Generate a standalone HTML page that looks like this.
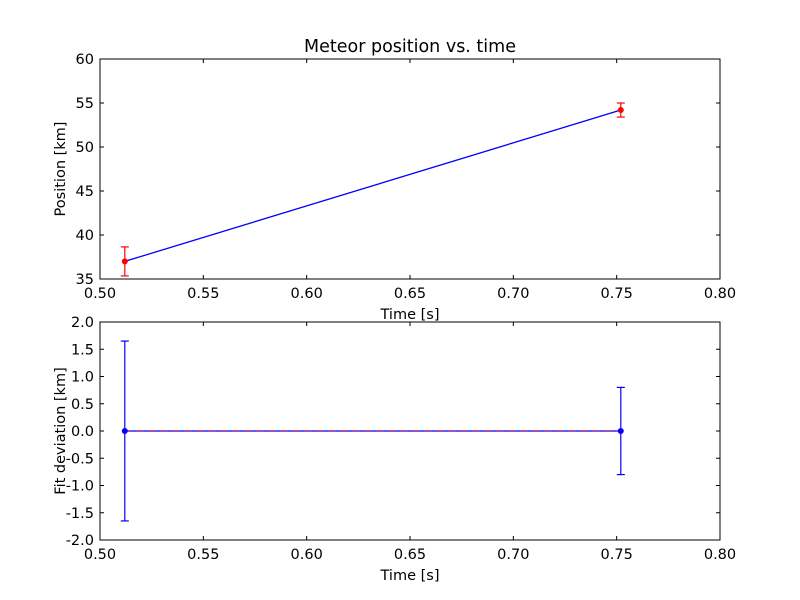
<!DOCTYPE html>
<html><head><meta charset="utf-8"><style>body{margin:0;background:#fff}svg{display:block;font-family:"DejaVu Sans","Liberation Sans",sans-serif}</style></head>
<body>
<svg id="c" width="800" height="600" viewBox="0 0 800 600">
<rect width="800" height="600" fill="#fff"/>
</svg>
<script>
const times = [0.512, 0.752];
const positions = [37.0, 54.2];
const posErrors = [1.65, 0.8];
const deviations = [0.0, 0.0];
const devErrors = [1.65, 0.8];
const xTicks = [0.50, 0.55, 0.60, 0.65, 0.70, 0.75, 0.80];
const yTicksTop = [35, 40, 45, 50, 55, 60];
const yTicksBot = [-2.0, -1.5, -1.0, -0.5, 0.0, 0.5, 1.0, 1.5, 2.0];

const svg = document.getElementById('c');
const NS = 'http://www.w3.org/2000/svg';
function mk(tag, attrs, parent) {
  const e = document.createElementNS(NS, tag);
  for (const k in attrs) e.setAttribute(k, attrs[k]);
  (parent || svg).appendChild(e);
  return e;
}
function panel(name, top, bottom, ymin, ymax, yTicks, yFmt, ys, errs, ylabel, title, lineCol, ptCol, errCol, zeroLine) {
  const L = 100, R = 720;
  const g = mk('g', {});
  
  
  const sx = v => L + (v - 0.5) / 0.3 * (R - L);
  const sy = v => bottom - (v - ymin) / (ymax - ymin) * (bottom - top);
  const clip = 'clip-' + name;
  const cp = mk('clipPath', {id: clip}, g);
  mk('rect', {x: L, y: top, width: R - L, height: bottom - top}, cp);
  const plot = mk('g', {'clip-path': 'url(#' + clip + ')'}, g);
  const pl = mk('polyline', {points: times.map((t, i) => sx(t) + ',' + sy(ys[i])).join(' '), fill: 'none', stroke: lineCol, 'stroke-width': 1.3}, plot);
  
  
  if (zeroLine) {
    const z = mk('line', {x1: sx(times[0]), x2: sx(times[times.length - 1]), y1: sy(0), y2: sy(0), stroke: '#ff0000', 'stroke-width': 1.2, 'stroke-dasharray': '6,6', opacity: 0.6}, plot);
    
    
  }
  times.forEach((t, i) => {
    const x = sx(t), y1 = sy(ys[i] - errs[i]), y2 = sy(ys[i] + errs[i]);
    const eb = mk('g', {stroke: errCol, 'stroke-width': 1.2}, plot);
    
    
    mk('line', {x1: x, x2: x, y1: y1, y2: y2}, eb);
    mk('line', {x1: x - 4, x2: x + 4, y1: y1, y2: y1}, eb);
    mk('line', {x1: x - 4, x2: x + 4, y1: y2, y2: y2}, eb);
    const p = mk('circle', {cx: x, cy: sy(ys[i]), r: 2.5, fill: ptCol, stroke: ptCol}, plot);
    
    
  });
  mk('rect', {x: L, y: top, width: R - L, height: bottom - top, fill: 'none', stroke: '#000', 'stroke-width': 1}, g);
  xTicks.forEach(v => {
    const x = sx(v);
    mk('line', {x1: x, x2: x, y1: bottom, y2: bottom - 4, stroke: '#000'}, g);
    mk('line', {x1: x, x2: x, y1: top, y2: top + 4, stroke: '#000'}, g);
    const t = mk('text', {x: x, y: bottom + 19, 'text-anchor': 'middle', 'font-size': 14.5}, g);
    t.textContent = v.toFixed(2);
    
    
  });
  yTicks.forEach(v => {
    const y = sy(v);
    mk('line', {x1: L, x2: L + 4, y1: y, y2: y, stroke: '#000'}, g);
    mk('line', {x1: R, x2: R - 4, y1: y, y2: y, stroke: '#000'}, g);
    const t = mk('text', {x: L - 6, y: y + 5, 'text-anchor': 'end', 'font-size': 14.5}, g);
    t.textContent = yFmt(v);
    
    
  });
  const xl = mk('text', {x: 410, y: bottom + 40, 'text-anchor': 'middle', 'font-size': 14.5}, g);
  xl.textContent = 'Time [s]';
  
  
  const cy = (top + bottom) / 2;
  const yl = mk('text', {x: 0, y: 0, 'text-anchor': 'middle', 'font-size': 14.5, transform: 'translate(65,' + cy + ') rotate(-90)'}, g);
  yl.textContent = ylabel;
  
  
  if (title) {
    const tt = mk('text', {x: 410, y: top - 7, 'text-anchor': 'middle', 'font-size': 17.5}, g);
    tt.textContent = title;
    
    
  }
}
panel('position-panel', 59, 279, 35, 60, yTicksTop, v => String(v), positions, posErrors, 'Position [km]', 'Meteor position vs. time', '#0000ff', '#ff0000', '#ff0000', false);
panel('deviation-panel', 322, 540, -2, 2, yTicksBot, v => v.toFixed(1), deviations, devErrors, 'Fit deviation [km]', null, '#0000ff', '#0000ff', '#0000ff', true);
</script>
</body></html>
